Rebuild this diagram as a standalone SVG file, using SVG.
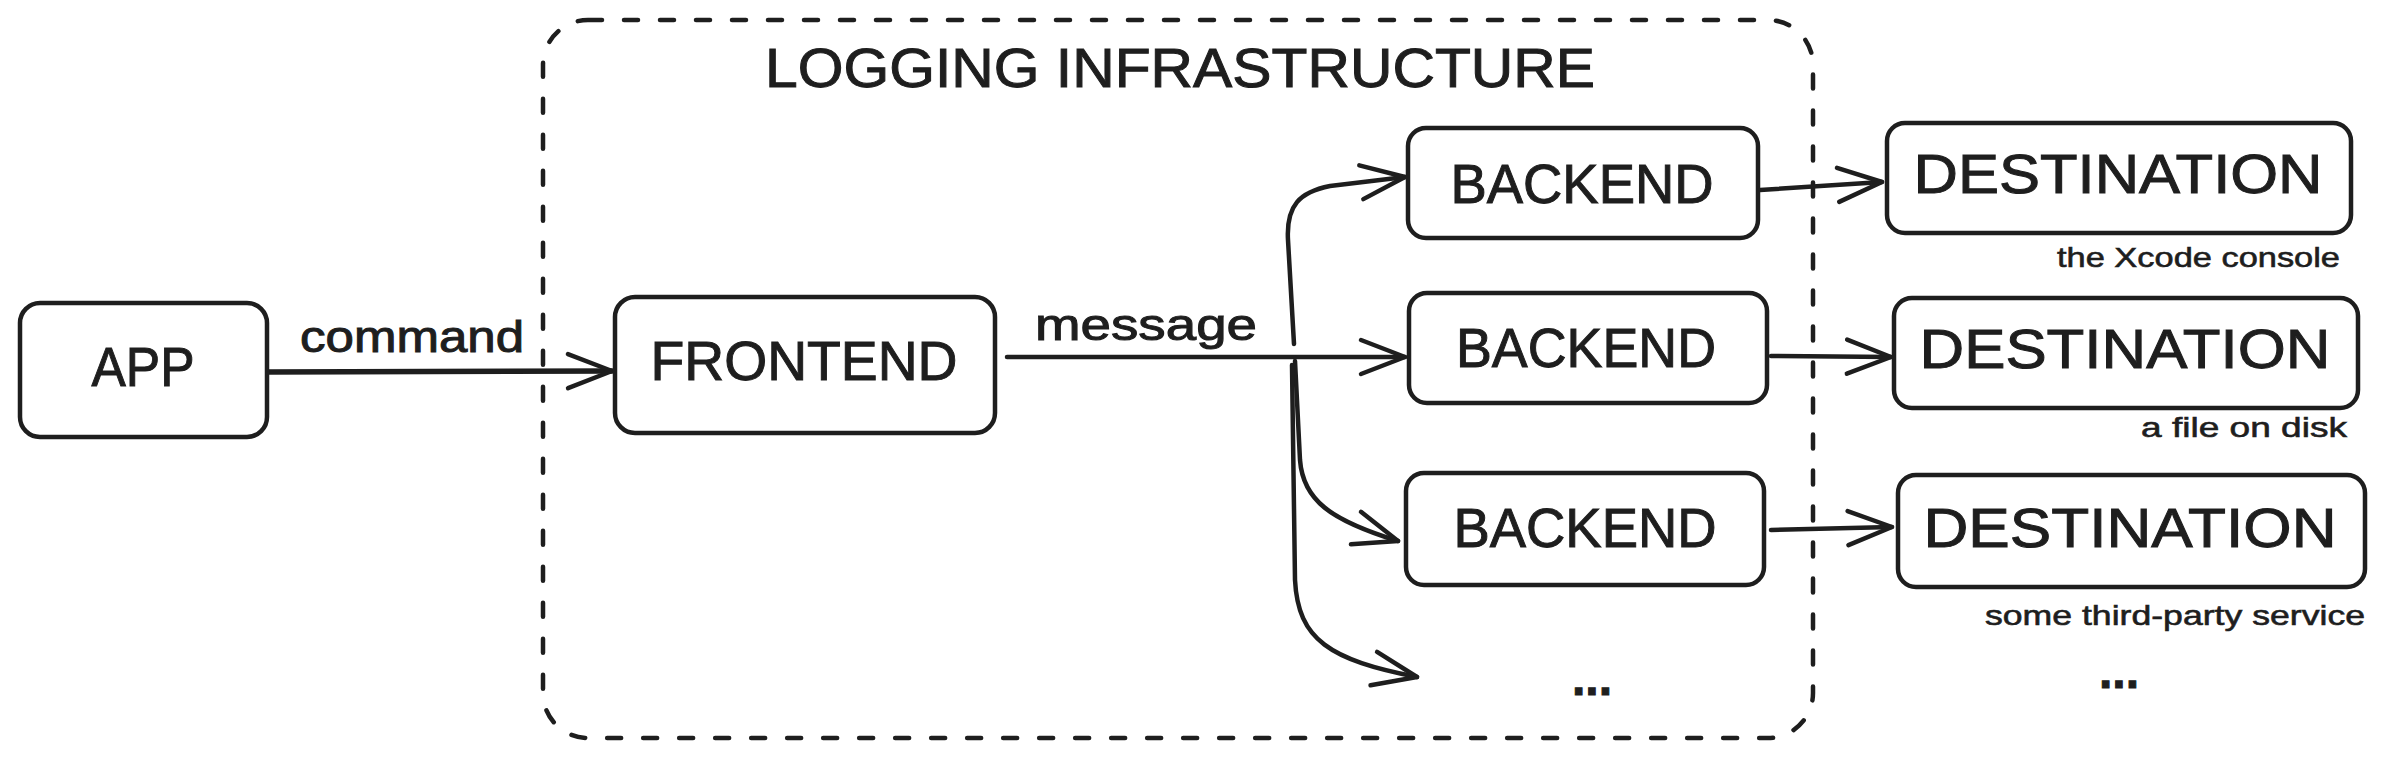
<svg xmlns="http://www.w3.org/2000/svg" width="2385" height="759" viewBox="0 0 2385 759">
<style>
.box{fill:#ffffff;stroke:#1e1e1e;stroke-width:4.5;}
.t{font-family:"Liberation Sans","DejaVu Sans",sans-serif;fill:#1e1e1e;text-anchor:middle;stroke:#1e1e1e;stroke-width:1;}
.big{font-size:56px;}
.lbl{font-size:44px;}
.small{font-size:28px;text-anchor:end;stroke-width:0.6;}
.dots{font-size:48px;font-weight:bold;}
.conn path{fill:none;stroke:#1e1e1e;stroke-width:4.5;stroke-linecap:round;stroke-linejoin:round;}
.frame{fill:none;stroke:#1e1e1e;stroke-width:4.5;stroke-dasharray:14 22;stroke-linecap:round;}
</style>
<defs>
<marker id="ah" viewBox="-50 -22 56 44" markerWidth="56" markerHeight="44" refX="0" refY="0" orient="auto" markerUnits="userSpaceOnUse">
<path d="M -44 -17 L 0 0 L -44 17" fill="none" stroke="#1e1e1e" stroke-width="4.5" stroke-linecap="round" stroke-linejoin="round"/>
</marker>
</defs>
<rect width="2385" height="759" fill="#ffffff"/>
<g id="container">
<rect class="frame" x="543" y="20" width="1270" height="718" rx="45"/>
<text class="t big" x="1180" y="87" textLength="830" lengthAdjust="spacingAndGlyphs">LOGGING INFRASTRUCTURE</text>
</g>
<g class="conn" id="connectors">
<path d="M 268 372 L 612 371" marker-end="url(#ah)" style="stroke-width:5.5"/>
<path d="M 1007 357 L 1405 357" marker-end="url(#ah)"/>
<path d="M 1294 344 L 1288 240 C 1286 205 1300 192 1330 186 L 1405 177" marker-end="url(#ah)"/>
<path d="M 1295 361 L 1300 460 C 1303 500 1330 520 1398 541" marker-end="url(#ah)"/>
<path d="M 1292 365 L 1295 580 C 1298 640 1330 660 1417 677" marker-end="url(#ah)"/>
<path d="M 1760 190 L 1882 182" marker-end="url(#ah)"/>
<path d="M 1771 356 L 1891 357" marker-end="url(#ah)"/>
<path d="M 1771 530 L 1892 527" marker-end="url(#ah)"/>
<text class="t lbl" x="412" y="352" textLength="224" lengthAdjust="spacingAndGlyphs">command</text>
<text class="t lbl" x="1146" y="340" textLength="222" lengthAdjust="spacingAndGlyphs">message</text>
</g>
<g id="app">
<rect class="box" x="20" y="303" width="247" height="134" rx="20"/>
<text class="t big" x="143" y="386" textLength="103" lengthAdjust="spacingAndGlyphs">APP</text>
</g>
<g id="frontend">
<rect class="box" x="615" y="297" width="380" height="136" rx="20"/>
<text class="t big" x="804" y="380" textLength="307" lengthAdjust="spacingAndGlyphs">FRONTEND</text>
</g>
<g id="backend1">
<rect class="box" x="1408" y="128" width="350" height="110" rx="18"/>
<text class="t big" x="1582" y="203" textLength="263" lengthAdjust="spacingAndGlyphs">BACKEND</text>
</g>
<g id="backend2">
<rect class="box" x="1409" y="293" width="358" height="110" rx="18"/>
<text class="t big" x="1586" y="367" textLength="260" lengthAdjust="spacingAndGlyphs">BACKEND</text>
</g>
<g id="backend3">
<rect class="box" x="1406" y="473" width="358" height="112" rx="18"/>
<text class="t big" x="1585" y="547" textLength="263" lengthAdjust="spacingAndGlyphs">BACKEND</text>
</g>
<g id="backend-more">
<text class="t dots" x="1592" y="695">...</text>
</g>
<g id="destination1">
<rect class="box" x="1887" y="123" width="464" height="110" rx="18"/>
<text class="t big" x="2118" y="193" textLength="409" lengthAdjust="spacingAndGlyphs">DESTINATION</text>
<text class="t small" x="2340" y="267" textLength="283" lengthAdjust="spacingAndGlyphs">the Xcode console</text>
</g>
<g id="destination2">
<rect class="box" x="1894" y="298" width="464" height="110" rx="18"/>
<text class="t big" x="2125" y="368" textLength="411" lengthAdjust="spacingAndGlyphs">DESTINATION</text>
<text class="t small" x="2347" y="437" textLength="206" lengthAdjust="spacingAndGlyphs">a file on disk</text>
</g>
<g id="destination3">
<rect class="box" x="1898" y="475" width="467" height="112" rx="18"/>
<text class="t big" x="2130" y="547" textLength="413" lengthAdjust="spacingAndGlyphs">DESTINATION</text>
<text class="t small" x="2365" y="625" textLength="380" lengthAdjust="spacingAndGlyphs">some third-party service</text>
</g>
<g id="destination-more">
<text class="t dots" x="2119" y="688">...</text>
</g>
</svg>
